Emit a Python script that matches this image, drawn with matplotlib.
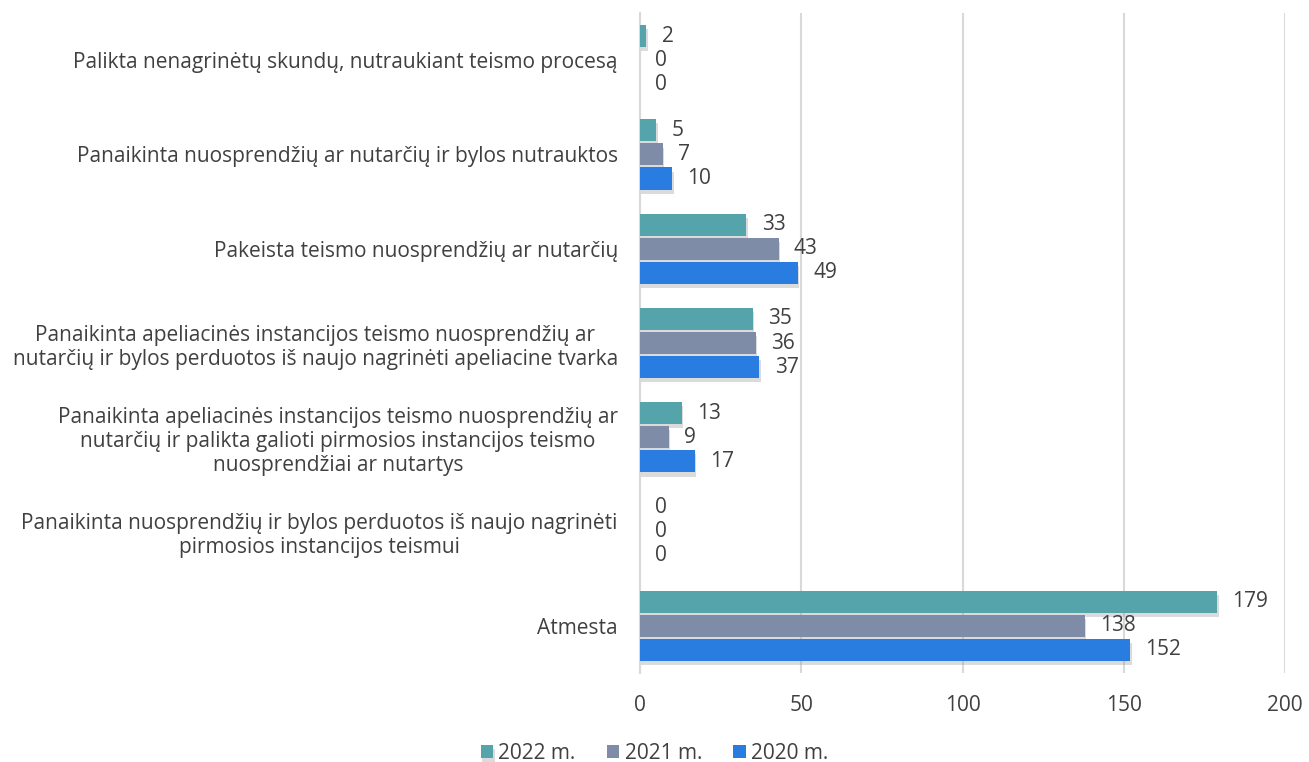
import matplotlib
matplotlib.use("Agg")
import matplotlib.pyplot as plt
import matplotlib.patheffects as pe
import numpy as np

plt.rcParams['font.family'] = ['Open Sans', 'DejaVu Sans']

categories = [
    "Palikta nenagrinėtų skundų, nutraukiant teismo procesą",
    "Panaikinta nuosprendžių ar nutarčių ir bylos nutrauktos",
    "Pakeista teismo nuosprendžių ar nutarčių",
    "Panaikinta apeliacinės instancijos teismo nuosprendžių ar\nnutarčių ir bylos perduotos iš naujo nagrinėti apeliacine tvarka",
    "Panaikinta apeliacinės instancijos teismo nuosprendžių ar\nnutarčių ir palikta galioti pirmosios instancijos teismo\nnuosprendžiai ar nutartys",
    "Panaikinta nuosprendžių ir bylos perduotos iš naujo nagrinėti\npirmosios instancijos teismui",
    "Atmesta",
]
series_names = ["2022 m.", "2021 m.", "2020 m."]
v2022 = [2, 5, 33, 35, 13, 0, 179]
v2021 = [0, 7, 43, 36, 9, 0, 138]
v2020 = [0, 10, 49, 37, 17, 0, 152]
colors = ["#55A3AB", "#7F8CA8", "#2A7DE0"]

fs = 15
fig = plt.figure(figsize=(13.09, 7.62), dpi=100)
ax = fig.add_axes([640/1309, 1-673/762, (1285-640)/1309, (673-13)/762])

n = len(categories)
y = np.arange(n)  # 0 at top
h = 0.255
offsets = [-h, 0, h]
shadow = [pe.SimplePatchShadow(offset=(1, -3), shadow_rgbFace='#999999', alpha=0.35), pe.Normal()]
for vals, off, col, name in zip([v2022, v2021, v2020], offsets, colors, series_names):
    bars = ax.barh(y + off, vals, height=h*0.92, color=col, label=name, zorder=3)
    for b in bars:
        if b.get_width() > 0:
            b.set_path_effects(shadow)
    for yi, v in zip(y + off, vals):
        ax.annotate(str(v), xy=(v, yi), xytext=(11, 0), textcoords='offset points',
                    ha='left', va='center', fontsize=fs, color='#404040')

ax.set_ylim(n - 0.5, -0.5)
ax.set_xlim(0, 200)
ax.set_xticks([0, 50, 100, 150, 200])
ax.set_yticks(y)
ax.set_yticklabels(categories, multialignment='center', fontsize=fs, color='#404040')
ax.tick_params(axis='y', length=0, pad=16)
ax.tick_params(axis='x', length=0, pad=16, labelsize=fs, labelcolor='#404040')
ax.grid(axis='x', color='#D9D9D9', linewidth=1.5, zorder=0)
ax.set_axisbelow(True)
for s in ['top', 'right', 'bottom']:
    ax.spines[s].set_visible(False)
ax.spines['left'].set_color('#D9D9D9')
ax.spines['left'].set_linewidth(1.5)

leg = fig.legend(loc='lower center', bbox_to_anchor=(0.5, -0.027), ncol=3, frameon=False,
                 fontsize=fs, handlelength=0.6, handleheight=0.6, handletextpad=0.25,
                 columnspacing=1.5, labelcolor='#404040')

fig.savefig("out.png", dpi=100)
